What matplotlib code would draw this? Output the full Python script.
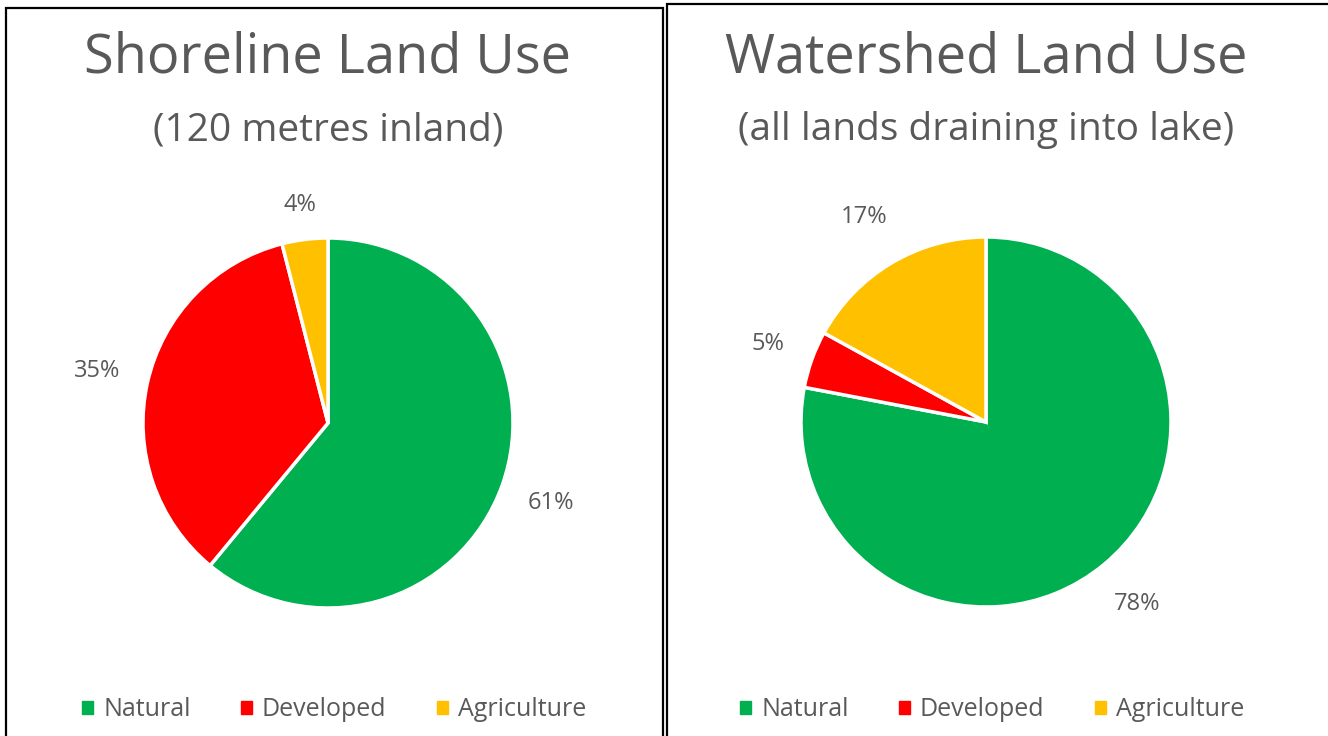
import numpy as np
import matplotlib.pyplot as plt
from matplotlib.patches import Rectangle

# data
categories = ['Natural', 'Developed', 'Agriculture']
colors = ['#00B050', '#FF0000', '#FFC000']
shore_values = [61, 35, 4]
watershed_values = [78, 5, 17]
titles = ['Shoreline Land Use', 'Watershed Land Use']
subtitles = ['(120 metres inland)', '(all lands draining into lake)']

W, H = 1328, 736
plt.rcParams['font.family'] = ['Open Sans', 'DejaVu Sans']
fig = plt.figure(figsize=(W / 100, H / 100), dpi=100)
fig.patch.set_facecolor('white')

grey = '#595959'

# panel borders (pixels: x0, top, x1)
for x0, top, x1 in [(6, 8, 663), (667, 4, 1340)]:
    fig.patches.append(Rectangle((x0 / W, -0.05), (x1 - x0) / W, 1.05 - top / H,
                                 transform=fig.transFigure, fill=False,
                                 edgecolor='black', linewidth=1.6))

centers = [(328, 423), (986, 422)]
R = 185
title_x = [328, 986]
# label distance from centre, in radii (Excel best-fit look)
label_dist = [[1.28, 1.28, 1.19], [1.28, 1.25, 1.29]]

for i, vals in enumerate([shore_values, watershed_values]):
    cx, cy = centers[i]
    ax = fig.add_axes([(cx - R) / W, 1 - (cy + R) / H, 2 * R / W, 2 * R / H])
    wedges, texts, autotexts = ax.pie(vals, colors=colors, startangle=90, counterclock=False,
                                      autopct='%1.0f%%', pctdistance=1.27,
                                      wedgeprops=dict(edgecolor='white', linewidth=2.5),
                                      textprops=dict(color=grey, fontsize=17))
    ax.set_xlim(-1, 1)
    ax.set_ylim(-1, 1)
    ax.set_aspect('equal')
    for w, t, d in zip(wedges, autotexts, label_dist[i]):
        mid = np.deg2rad((w.theta1 + w.theta2) / 2)
        t.set_position((d * np.cos(mid), d * np.sin(mid)))
        t.set_clip_on(False)

    fig.text(title_x[i] / W, 1 - 58 / H, titles[i], ha='center', va='center',
             fontsize=39, color=grey)
    fig.text(title_x[i] / W, 1 - 130 / H, subtitles[i], ha='center', va='center',
             fontsize=28, color=grey)

    handles = [Rectangle((0, 0), 1, 1, color=c) for c in colors]
    fig.legend(handles, categories, loc='center', ncol=3, frameon=False,
               bbox_to_anchor=((title_x[i] + 6) / W, 1 - 710 / H),
               fontsize=18, labelcolor=grey, handlelength=0.45, handleheight=0.45,
               handletextpad=0.4, columnspacing=2.0)

fig.savefig('out.png', dpi=100)
